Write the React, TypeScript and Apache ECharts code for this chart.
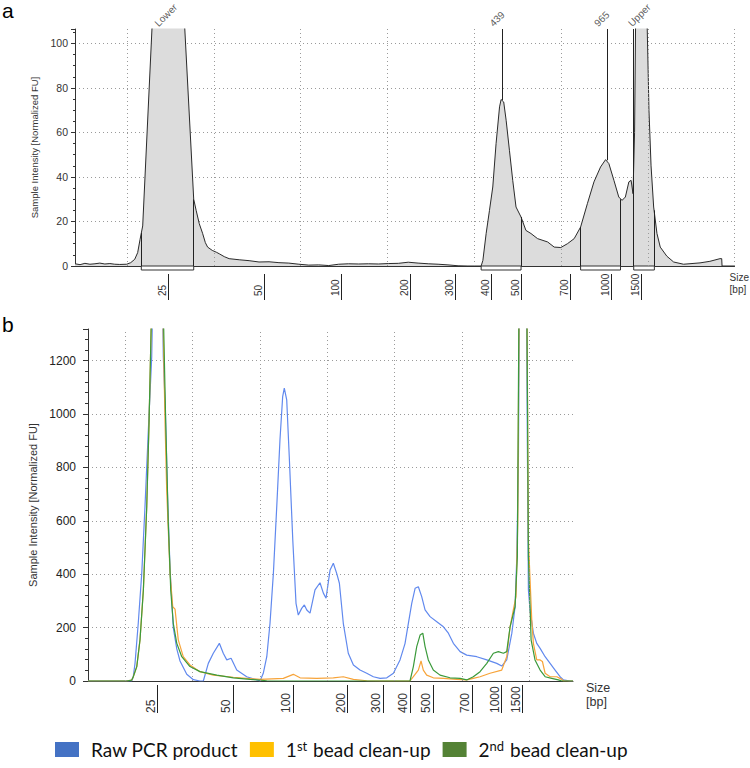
import React, { useEffect, useRef } from 'react';
import * as echarts from 'echarts';

// ---------- Panel a (single sample, migration time in s) ----------
const timeA = [42.00, 42.29, 42.57, 42.86, 43.15, 43.43, 43.72, 44.01, 44.29, 44.58,
  44.98, 45.21, 45.44, 45.61, 45.75, 45.90, 47.33, 48.84, 48.98, 49.16,
  49.35, 49.51, 49.64, 49.91, 50.14, 50.31, 50.60, 50.88, 51.46, 52.03,
  52.60, 53.18, 53.75, 54.32, 54.90, 55.47, 56.04, 56.62, 57.19, 57.76,
  58.34, 58.91, 59.48, 60.05, 60.63, 61.20, 61.77, 62.35, 62.92, 63.49,
  63.78, 64.07, 64.64, 65.40, 65.50, 65.69, 65.88, 66.07, 66.26, 66.46,
  66.55, 66.70, 66.84, 67.03, 67.22, 67.41, 67.70, 67.98, 68.27, 68.65,
  69.23, 69.61, 69.99, 70.37, 70.76, 71.13, 71.52, 71.90, 72.28, 72.57,
  72.76, 73.05, 73.33, 73.52, 73.71, 73.91, 74.04, 74.15, 74.24, 74.30,
  74.61, 74.96, 75.07, 75.19, 75.34, 75.53, 75.72, 76.10, 76.49, 77.06,
  78.01, 78.58, 79.16, 79.26, 79.28, 80.00];
const fuA = [1.0, 0.6, 1.2, 0.8, 1.0, 1.3, 0.9, 1.1, 0.8, 0.7,
  0.8, 1.5, 3, 6, 12, 18, 255, 30, 25, 19,
  14.7, 10.5, 8.5, 7, 6.2, 5.5, 4.2, 3.3, 2.8, 2.4,
  1.8, 1.9, 1.5, 1.3, 0.8, 0.4, 0.5, 0.2, 0.8, 1.0,
  0.9, 1.0, 0.9, 1.1, 1.2, 1.7, 1.3, 1.0, 0.8, 0.5,
  0.3, 0.1, 0, 0, 2.5, 14.7, 25, 35.5, 55, 71.5,
  74.8, 73.7, 65.5, 52, 38.5, 26.5, 22, 16, 14.6, 12.3,
  10.8, 8.5, 8.3, 10, 12.3, 17.5, 28, 37.8, 44.5, 47.8,
  46, 38.5, 31, 29.5, 31, 37.8, 38.5, 32.5, 60, 110,
  400, 110, 70, 45, 26.5, 14.6, 8.5, 4.4, 1.8, 0.8,
  1.4, 2.1, 3.3, 3.3, 0, 0];

const ladderA = [47.39, 52.89, 57.34, 61.33, 63.91, 65.98, 67.73, 70.56, 72.89, 74.61];
const ladderLabels = ['25', '50', '100', '200', '300', '400', '500', '700', '1000', '1500'];
const gridTimesA = [45, 50, 55, 60, 65, 70, 75, 80];

// peak regions (start, end) and curve heights at their edges
const regionStartA = [45.82, 65.40, 71.13, 74.19];
const regionEndA = [48.84, 67.70, 73.43, 75.38];
const regionStartH = [14.8, 0, 17.5, 106.5];
const regionEndH = [30, 22, 30, 25];
// called peaks
const peakNames = ['Lower', '439', '965', 'Upper'];
const peakTimes = [47.33, 66.63, 72.66, 74.61];
const peakHeights = [255, 74.5, 47.5, 400];

// ---------- Panel b (overlay of three samples) ----------
const timeBlue = [42.25, 45.49, 45.61, 45.74, 45.98, 46.24, 46.48, 46.73, 46.98, 47.45,
  47.84, 48.00, 48.15, 48.34, 48.58, 48.84, 49.08, 49.58, 50.07, 50.56,
  50.81, 51.18, 51.55, 52.00, 52.29, 52.55, 52.87, 53.29, 54.03, 54.77,
  55.02, 55.26, 55.52, 55.76, 56.01, 56.26, 56.50, 56.70, 56.82, 57.00,
  57.19, 57.45, 57.69, 57.86, 58.11, 58.31, 58.49, 58.73, 59.10, 59.47,
  59.72, 59.92, 60.22, 60.46, 60.71, 60.91, 61.20, 61.57, 61.95, 62.44,
  62.94, 63.43, 63.93, 64.43, 64.92, 65.41, 65.78, 66.03, 66.28, 66.53,
  66.77, 67.02, 67.27, 67.64, 68.14, 68.63, 69.00, 69.37, 69.87, 70.36,
  71.11, 71.85, 72.59, 72.96, 73.33, 73.71, 73.95, 74.08, 74.20, 74.54,
  74.86, 74.94, 75.06, 75.31, 75.56, 75.81, 76.18, 76.55, 76.92, 77.29,
  77.54, 78.03, 78.25];
const fuBlue = [0, 0, 16, 66, 216, 403, 653, 940, 1215, 2600,
  1215, 1000, 700, 420, 200, 120, 75, 25, 5, 0,
  0, 66, 104, 141, 104, 79, 85, 41, 16, 4,
  0, 29, 91, 216, 403, 653, 903, 1065, 1097, 1053,
  840, 528, 291, 247, 272, 285, 266, 254, 341, 368,
  329, 310, 416, 441, 403, 366, 216, 104, 60, 41,
  29, 16, 10, 12, 29, 79, 140, 216, 291, 347,
  353, 316, 266, 241, 222, 203, 179, 141, 110, 97,
  91, 79, 66, 56, 79, 179, 278, 466, 840, 3800,
  900, 341, 266, 179, 141, 122, 91, 66, 41, 16,
  4, 0, 0];

const timeOrange = [42.25, 45.12, 45.49, 45.61, 45.87, 46.11, 46.36, 46.61, 46.78, 47.41,
  47.97, 48.09, 48.34, 48.54, 48.71, 48.95, 49.32, 49.82, 50.56, 51.55,
  53.04, 55.02, 56.75, 57.49, 57.99, 59.23, 60.46, 61.20, 61.95, 62.94,
  63.93, 66.15, 66.40, 66.77, 66.97, 67.14, 67.39, 67.88, 68.63, 69.62,
  70.36, 70.85, 71.35, 72.09, 72.96, 73.33, 73.58, 73.82, 74.02, 74.15,
  74.54, 74.94, 75.19, 75.31, 75.56, 75.81, 75.98, 76.18, 76.55, 77.05,
  77.42, 77.54, 78.25];
const fuOrange = [0, 0, 3, 16, 54, 154, 341, 653, 965, 2400,
  965, 716, 403, 278, 269, 154, 91, 60, 35, 22,
  14, 6, 10, 25, 12, 10, 12, 16, 6, 1,
  0, 0, 16, 41, 75, 41, 22, 12, 10, 6,
  4, 10, 16, 29, 41, 91, 203, 266, 316, 591,
  3800, 528, 228, 141, 79, 79, 73, 29, 16, 16,
  6, 0, 0];

const timeGreen = [42.25, 45.12, 45.49, 45.61, 45.87, 46.11, 46.36, 46.61, 46.78, 47.41,
  48.02, 48.21, 48.39, 48.58, 48.84, 49.21, 49.82, 50.56, 51.81, 53.04,
  54.28, 55.52, 56.50, 66.15, 66.40, 66.65, 66.90, 67.10, 67.27, 67.51,
  67.88, 68.38, 69.12, 69.87, 70.36, 70.85, 71.35, 71.85, 72.34, 72.71,
  73.08, 73.33, 73.58, 73.95, 74.12, 74.54, 74.94, 75.14, 75.43, 75.81,
  76.18, 76.67, 77.16, 77.42, 78.25];
const fuGreen = [0, 0, 3, 16, 54, 154, 341, 653, 965, 2400,
  965, 591, 341, 216, 141, 91, 54, 35, 22, 12,
  6, 1, 0, 0, 54, 129, 172, 179, 129, 79,
  41, 22, 12, 10, 4, 16, 35, 66, 104, 110,
  104, 110, 203, 278, 466, 3800, 466, 154, 79, 41,
  16, 10, 4, 0, 0];

const ladderB = [47.42, 53.04, 57.49, 61.53, 64.13, 66.15, 67.88, 70.74, 72.96, 74.52];
const gridTimesB = [45, 50, 55, 60, 65, 70, 75];
const seriesNames = ['Raw PCR product', '1st bead clean-up', '2nd bead clean-up'];

// ---------- helpers ----------
const zip = (xs: number[], ys: number[]) => xs.map((x, i) => [x, ys[i]]);
const FONT = 'Liberation Sans';
const A_MIN = 42, A_MAX = 80, A_TOP = 106.5;
const B_MIN = 42.25, B_MAX = 78.25, B_TOP = 1318;
const SHIFT_A = 0.34, SHIFT_B = 0.52;

const ladderFormatter = (shifted: number[]) => (v: number) => {
  let best = 0;
  shifted.forEach((s, i) => { if (Math.abs(s - v) < Math.abs(shifted[best] - v)) best = i; });
  return ladderLabels[best];
};

function buildOption(): any {
  const ladderAShift = ladderA.map((t) => t - SHIFT_A);
  const ladderBShift = ladderB.map((t) => t - SHIFT_B);
  const dotted = { type: [1, 3], color: '#9a9a9a', width: 1 };

  const edgeLines: any[] = [];
  regionStartA.forEach((t, i) => {
    if (regionStartH[i] > 0) edgeLines.push([{ coord: [t, 0] }, { coord: [t, regionStartH[i]] }]);
    if (regionEndH[i] > 0) edgeLines.push([{ coord: [regionEndA[i], 0] }, { coord: [regionEndA[i], regionEndH[i]] }]);
  });
  peakTimes.forEach((t, i) => {
    if (peakHeights[i] < A_TOP) edgeLines.push([{ coord: [t, peakHeights[i]] }, { coord: [t, A_TOP] }]);
  });

  const colorsLegend = ['#4472C4', '#FFC000', '#548235'];
  const colorsLine = ['#6189ee', '#f7a43a', '#3b9a3b'];
  const bData = [zip(timeBlue, fuBlue), zip(timeOrange, fuOrange), zip(timeGreen, fuGreen)];

  return {
    animation: false,
    backgroundColor: '#ffffff',
    textStyle: { fontFamily: FONT },
    graphic: [
      { type: 'text', left: 2, top: 0, style: { text: 'a', fontSize: 21, fontFamily: FONT, fill: '#000' } },
      { type: 'text', left: 2, top: 314, style: { text: 'b', fontSize: 21, fontFamily: FONT, fill: '#000' } },
    ],
    legend: {
      data: seriesNames,
      left: 50,
      top: 734,
      icon: 'rect',
      itemWidth: 24,
      itemHeight: 15,
      itemGap: 12,
      selectedMode: false,
      formatter: (name: string) => name.replace(/^(\d)(st|nd)/, '$1{sup|$2}'),
      textStyle: {
        fontFamily: 'Lato', fontSize: 19, color: '#111', padding: [0, 0, 0, 7],
        rich: { sup: { fontFamily: 'Lato', fontSize: 13, color: '#111', verticalAlign: 'top', padding: [0, 1, 8, 0] } },
      },
    },
    grid: [
      { left: 75, top: 29, width: 663, height: 237 },
      { left: 88, top: 329, width: 485, height: 352 },
    ],
    xAxis: [
      {
        gridIndex: 0, type: 'value', min: A_MIN, max: A_MAX,
        axisLine: { show: true, onZero: false, lineStyle: { color: '#333', width: 1 } },
        axisTick: { show: false }, axisLabel: { show: false }, splitLine: { show: false },
        name: 'Size\n[bp]', nameLocation: 'end', nameGap: -5,
        nameTextStyle: { align: 'left', verticalAlign: 'top', padding: [5, 0, 0, 0], lineHeight: 12, fontSize: 10, color: '#333', fontFamily: FONT },
      },
      {
        gridIndex: 0, type: 'value', min: A_MIN, max: A_MAX, position: 'bottom', offset: 8,
        axisLine: { show: false, onZero: false },
        axisTick: { show: true, customValues: ladderA, length: 26, lineStyle: { color: '#222', width: 1 } },
        axisLabel: { show: true, customValues: ladderAShift, rotate: 90, align: 'left', margin: 22, fontSize: 10, color: '#333', fontFamily: FONT, formatter: ladderFormatter(ladderAShift) },
        splitLine: { show: false },
      },
      {
        gridIndex: 1, type: 'value', min: B_MIN, max: B_MAX,
        axisLine: { show: true, onZero: false, lineStyle: { color: '#333', width: 1 } },
        axisTick: { show: false }, axisLabel: { show: false }, splitLine: { show: false },
        name: 'Size\n[bp]', nameLocation: 'end', nameGap: 13,
        nameTextStyle: { align: 'left', verticalAlign: 'top', padding: [0, 0, 0, 0], lineHeight: 14, fontSize: 12.5, color: '#333', fontFamily: FONT },
      },
      {
        gridIndex: 1, type: 'value', min: B_MIN, max: B_MAX, position: 'bottom', offset: 4,
        axisLine: { show: false, onZero: false },
        axisTick: { show: true, customValues: ladderB, length: 28, lineStyle: { color: '#222', width: 1 } },
        axisLabel: { show: true, customValues: ladderBShift, rotate: 90, align: 'left', margin: 28, fontSize: 12, color: '#333', fontFamily: FONT, formatter: ladderFormatter(ladderBShift) },
        splitLine: { show: false },
      },
    ],
    yAxis: [
      {
        gridIndex: 0, type: 'value', min: 0, max: A_TOP, interval: 20,
        axisLine: { show: true, onZero: false, lineStyle: { color: '#333', width: 1 } },
        axisTick: { show: true, length: 4, lineStyle: { color: '#333' } },
        minorTick: { show: true, splitNumber: 4, length: 2, lineStyle: { color: '#333' } },
        axisLabel: { fontSize: 10.5, color: '#333', margin: 7, showMaxLabel: false, fontFamily: FONT, formatter: (v: number) => String(v) },
        splitLine: { show: true, showMaxLine: false, lineStyle: dotted },
        name: 'Sample Intensity [Normalized FU]', nameLocation: 'middle', nameGap: 30,
        nameTextStyle: { fontSize: 9.5, color: '#333', fontFamily: FONT },
      },
      {
        gridIndex: 1, type: 'value', min: 0, max: B_TOP, interval: 200,
        axisLine: { show: true, onZero: false, lineStyle: { color: '#333', width: 1 } },
        axisTick: { show: true, length: 5, lineStyle: { color: '#333' } },
        minorTick: { show: true, splitNumber: 5, length: 3, lineStyle: { color: '#333' } },
        axisLabel: { fontSize: 12, color: '#222', margin: 12, showMaxLabel: false, fontFamily: FONT, formatter: (v: number) => String(v) },
        splitLine: { show: true, showMaxLine: false, lineStyle: dotted },
        name: 'Sample Intensity [Normalized FU]', nameLocation: 'middle', nameGap: 45,
        nameTextStyle: { fontSize: 11, color: '#333', fontFamily: FONT },
      },
    ],
    series: [
      // vertical dotted grid, panel a (behind)
      {
        type: 'line', xAxisIndex: 0, yAxisIndex: 0, data: [], z: 1, silent: true,
        markLine: { symbol: 'none', silent: true, label: { show: false }, lineStyle: dotted, data: gridTimesA.map((t) => ({ xAxis: t })) },
      },
      // electropherogram, panel a
      {
        type: 'line', name: 'Sample', xAxisIndex: 0, yAxisIndex: 0, z: 2,
        data: zip(timeA, fuA), showSymbol: false, symbol: 'none',
        lineStyle: { color: '#2a2a2a', width: 1 },
        areaStyle: { color: '#dcdcdc', opacity: 1 },
        markLine: { symbol: 'none', silent: true, label: { show: false }, lineStyle: { color: '#222', type: 'solid', width: 1 }, data: edgeLines },
      },
      // region boxes below axis, panel a
      {
        type: 'custom', xAxisIndex: 0, yAxisIndex: 0, z: 4, clip: false, silent: true,
        data: regionStartA.map((s, i) => [s, regionEndA[i], 0]),
        encode: { x: [0, 1], y: 2 },
        renderItem: (_p: any, api: any) => {
          const a = api.coord([api.value(0), 0]);
          const b = api.coord([api.value(1), 0]);
          return { type: 'rect', shape: { x: a[0], y: a[1], width: b[0] - a[0], height: 4 }, style: { fill: '#fff', stroke: '#333', lineWidth: 1 } };
        },
      },
      // peak names at top, panel a
      {
        type: 'scatter', xAxisIndex: 0, yAxisIndex: 0, z: 5, clip: false, silent: true,
        symbolSize: 0,
        data: peakTimes.map((t, i) => [t, A_TOP, peakNames[i]]),
        label: {
          show: true, position: 'inside', rotate: 45, align: 'left', verticalAlign: 'bottom',
          offset: [-5, -6], fontSize: 10, color: '#333', fontFamily: FONT,
          formatter: (p: any) => p.value[2],
        },
      },
      // vertical dotted grid, panel b
      {
        type: 'line', xAxisIndex: 2, yAxisIndex: 1, data: [], z: 1, silent: true,
        markLine: { symbol: 'none', silent: true, label: { show: false }, lineStyle: dotted, data: gridTimesB.map((t) => ({ xAxis: t })) },
      },
      ...seriesNames.map((name, i) => ({
        type: 'line', name, xAxisIndex: 2, yAxisIndex: 1, z: 2 + i,
        data: bData[i], showSymbol: false, symbol: 'none',
        itemStyle: { color: colorsLegend[i] },
        lineStyle: { color: colorsLine[i], width: 1.2 },
      })),
    ],
  };
}

export default function App() {
  const ref = useRef<HTMLDivElement>(null);
  useEffect(() => {
    const chart = echarts.init(ref.current as HTMLDivElement, null, { renderer: 'svg' });
    chart.setOption(buildOption());
    return () => chart.dispose();
  }, []);
  return (
    <div
      ref={ref}
      style={{ position: 'fixed', left: 0, top: 0, width: 750, height: 768, background: '#fff' }}
    />
  );
}
